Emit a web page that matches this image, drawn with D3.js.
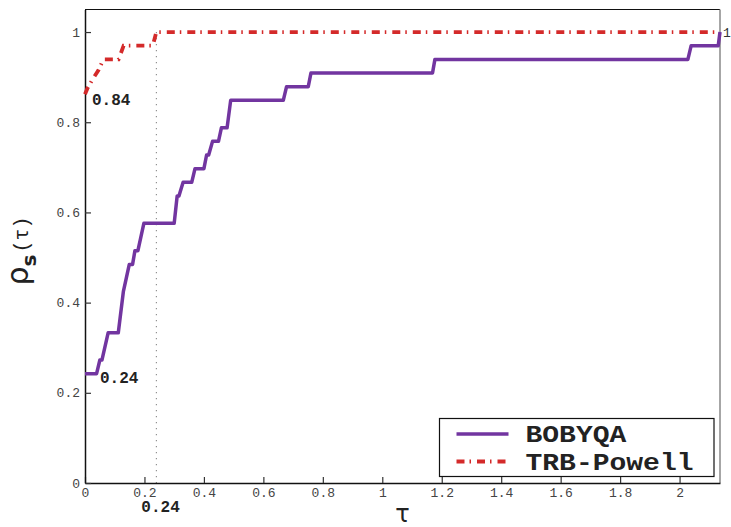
<!DOCTYPE html>
<html>
<head>
<meta charset="utf-8">
<script src="https://cdn.jsdelivr.net/npm/d3@7"></script>
<style>
  body { margin: 0; background: #fff; }
  svg { display: block; }
</style>
</head>
<body>
<div id="chart"></div>
<script>
// performance profile data (tau, rho)
const bobyqaTau = [0, 0.039, 0.050, 0.057, 0.078, 0.112, 0.129, 0.149, 0.160, 0.168, 0.178, 0.198,
  0.300, 0.310, 0.316, 0.330, 0.359, 0.370, 0.400, 0.409, 0.416, 0.429, 0.449, 0.459, 0.478, 0.490,
  0.667, 0.678, 0.751, 0.760, 1.169, 1.177, 2.028, 2.039, 2.130, 2.136];
const bobyqaRho = [0.2424, 0.2424, 0.2727, 0.2727, 0.3333, 0.3333, 0.4242, 0.4848, 0.4848, 0.5152, 0.5152, 0.5758,
  0.5758, 0.6364, 0.6364, 0.6667, 0.6667, 0.6970, 0.6970, 0.7273, 0.7273, 0.7576, 0.7576, 0.7879, 0.7879, 0.8485,
  0.8485, 0.8788, 0.8788, 0.9091, 0.9091, 0.9394, 0.9394, 0.9697, 0.9697, 1.0];
const trbTau = [0, 0.008, 0.030, 0.045, 0.062, 0.113, 0.130, 0.228, 0.240, 2.136];
const trbRho = [0.862, 0.875, 0.900, 0.915, 0.9394, 0.9394, 0.9697, 0.9697, 1.0, 1.0];
const seriesNames = ["BOBYQA", "TRB-Powell"];
const xTicks = [0, 0.2, 0.4, 0.6, 0.8, 1, 1.2, 1.4, 1.6, 1.8, 2];
const yTicks = [0, 0.2, 0.4, 0.6, 0.8, 1];
const tauMark = 0.24;

const width = 731, height = 527;
const margin = {left: 85, right: 11, top: 9.5, bottom: 44};
const purple = "#7235a0", red = "#d42a2a";
const mono = "'Liberation Mono', 'DejaVu Sans Mono', monospace";

const svg = d3.select("#chart").append("svg")
  .attr("width", width).attr("height", height);

const x = d3.scaleLinear().domain([0, 2.136]).range([margin.left, width - margin.right]);
const y = d3.scaleLinear().domain([0, 1.05]).range([height - margin.bottom, margin.top]);

// frame
svg.append("line").attr("x1", x(0)).attr("x2", x(2.136)).attr("y1", y(1.05)).attr("y2", y(1.05))
  .attr("stroke", "#111").attr("stroke-width", 1.2);
svg.append("line").attr("x1", x(2.136)).attr("x2", x(2.136)).attr("y1", y(1.05)).attr("y2", y(0))
  .attr("stroke", "#888").attr("stroke-width", 1.5);

// dotted marker at tau = 0.24
svg.append("line").attr("x1", x(tauMark)).attr("x2", x(tauMark)).attr("y1", y(1)).attr("y2", y(0))
  .attr("stroke", "#777").attr("stroke-width", 1).attr("stroke-dasharray", "1.2,4.8");

// axes
const xAxis = svg.append("g").attr("transform", `translate(0,${y(0)})`)
  .call(d3.axisBottom(x).tickValues(xTicks).tickSizeInner(-6).tickSizeOuter(0).tickPadding(5)
    .tickFormat(d3.format("~g")));
const yAxis = svg.append("g").attr("transform", `translate(${x(0)},0)`)
  .call(d3.axisLeft(y).tickValues(yTicks).tickSizeInner(-6).tickSizeOuter(0).tickPadding(5)
    .tickFormat(d3.format("~g")));
[xAxis, yAxis].forEach(g => {
  g.select(".domain").attr("stroke", "#111").attr("stroke-width", 1.5);
  g.selectAll(".tick line").attr("stroke", "#333").attr("stroke-width", 1.2);
  g.selectAll(".tick text").attr("font-family", mono).attr("font-size", 13).attr("fill", "#444");
});

// lines
const line = d3.line().x(d => x(d[0])).y(d => y(d[1]));
const bobyqa = d3.zip(bobyqaTau, bobyqaRho);
const trb = d3.zip(trbTau, trbRho);

svg.append("path").datum(bobyqa).attr("d", line)
  .attr("fill", "none").attr("stroke", purple).attr("stroke-width", 3.5).attr("stroke-linejoin", "round");
svg.append("path").datum(trb).attr("d", line)
  .attr("fill", "none").attr("stroke", red).attr("stroke-width", 3.8)
  .attr("stroke-dasharray", "8,5,1.5,6");

// annotations
const ann = svg.append("g").attr("font-family", mono).attr("font-weight", "bold")
  .attr("font-size", 16).attr("fill", "#222");
ann.append("text").attr("x", x(0) + 7).attr("y", y(0.84) + 1).text("0.84");
ann.append("text").attr("x", x(0) + 15).attr("y", y(bobyqaRho[0]) + 9).text("0.24");
ann.append("text").attr("x", x(tauMark) - 15).attr("y", y(0) + 29).text("0.24");
svg.append("text").attr("x", x(2.136) + 3).attr("y", y(1) + 5)
  .attr("font-family", mono).attr("font-size", 13).attr("fill", "#333").text("1");

// axis labels
svg.append("text").attr("x", (x(0) + x(2.136)) / 2).attr("y", 522)
  .attr("text-anchor", "middle").attr("font-family", "'DejaVu Sans', sans-serif")
  .attr("font-size", 24).attr("fill", "#222").text("τ");

const yl = svg.append("text").attr("transform", "translate(28,251) rotate(-90)")
  .attr("text-anchor", "middle").attr("fill", "#222");
yl.append("tspan").attr("font-family", "'DejaVu Sans', sans-serif").attr("font-size", 30).text("ρ");
yl.append("tspan").attr("font-family", "'DejaVu Sans', sans-serif").attr("font-weight", "bold")
  .attr("font-size", 20).attr("dy", 8).text("s");
yl.append("tspan").attr("font-family", mono).attr("font-size", 20).attr("dy", -8).attr("dx", 2).text("(τ)");

// legend
const lg = svg.append("g").attr("transform", "translate(439.5,418.5)");
lg.append("rect").attr("width", 274.5).attr("height", 58)
  .attr("fill", "#fff").attr("stroke", "#111").attr("stroke-width", 1.2);
const styles = [{c: purple, dash: null, w: 3.5}, {c: red, dash: "8,5,1.5,6", w: 3.8}];
seriesNames.forEach((name, i) => {
  const yy = 15.5 + i * 27.5;
  lg.append("line").attr("x1", 17).attr("x2", 69).attr("y1", yy).attr("y2", yy)
    .attr("stroke", styles[i].c).attr("stroke-width", styles[i].w)
    .attr("stroke-dasharray", styles[i].dash);
  lg.append("text").attr("x", 86).attr("y", yy + 8)
    .attr("font-family", mono).attr("font-weight", "bold").attr("font-size", 24)
    .attr("textLength", name.length * 16.8).attr("lengthAdjust", "spacingAndGlyphs")
    .attr("fill", "#222").text(name);
});
</script>
</body>
</html>
